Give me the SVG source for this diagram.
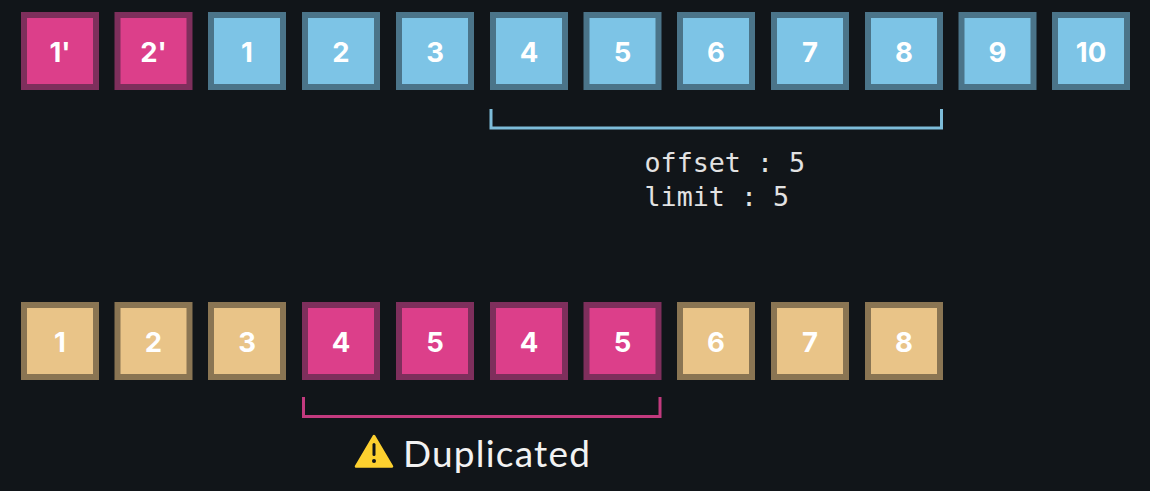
<svg xmlns="http://www.w3.org/2000/svg" width="1150" height="491" viewBox="0 0 1150 491">
<style>
.b{stroke-width:6}
.p{fill:#dc3f8a;stroke:#7e2f5c}
.c{fill:#7dc4e6;stroke:#4b7489}
.t{fill:#e9c488;stroke:#8a7553}
.n{font-family:"Inter","Liberation Sans",sans-serif;font-weight:700;font-size:27.500px;fill:#fff;text-anchor:middle}
.m{font-family:"DejaVu Sans Mono",monospace;font-size:26.700px;fill:#e2e2e2}
.k{fill:none;stroke-width:3}
</style>
<defs>
<rect id="box" x="-36" y="-36" width="72" height="72"/>
</defs>
<rect width="1150" height="491" fill="#111519"/>
<g id="top-row">
<g id="a1p" transform="translate(60,51)"><use href="#box" class="b p"/><text class="n" y="11">1'</text></g>
<g id="a2p" transform="translate(153.500,51)"><use href="#box" class="b p"/><text class="n" y="11">2'</text></g>
<g id="a1" transform="translate(247,51)"><use href="#box" class="b c"/><text class="n" y="11">1</text></g>
<g id="a2" transform="translate(341,51)"><use href="#box" class="b c"/><text class="n" y="11">2</text></g>
<g id="a3" transform="translate(435,51)"><use href="#box" class="b c"/><text class="n" y="11">3</text></g>
<g id="a4" transform="translate(529,51)"><use href="#box" class="b c"/><text class="n" y="11">4</text></g>
<g id="a5" transform="translate(622.500,51)"><use href="#box" class="b c"/><text class="n" y="11">5</text></g>
<g id="a6" transform="translate(716,51)"><use href="#box" class="b c"/><text class="n" y="11">6</text></g>
<g id="a7" transform="translate(810,51)"><use href="#box" class="b c"/><text class="n" y="11">7</text></g>
<g id="a8" transform="translate(904,51)"><use href="#box" class="b c"/><text class="n" y="11">8</text></g>
<g id="a9" transform="translate(997.500,51)"><use href="#box" class="b c"/><text class="n" y="11">9</text></g>
<g id="a10" transform="translate(1091,51)"><use href="#box" class="b c"/><text class="n" y="11">10</text></g>
</g>
<g id="bottom-row">
<g id="b1" transform="translate(60,341)"><use href="#box" class="b t"/><text class="n" y="11">1</text></g>
<g id="b2" transform="translate(153.500,341)"><use href="#box" class="b t"/><text class="n" y="11">2</text></g>
<g id="b3" transform="translate(247,341)"><use href="#box" class="b t"/><text class="n" y="11">3</text></g>
<g id="b4" transform="translate(341,341)"><use href="#box" class="b p"/><text class="n" y="11">4</text></g>
<g id="b5" transform="translate(435,341)"><use href="#box" class="b p"/><text class="n" y="11">5</text></g>
<g id="b4d" transform="translate(529,341)"><use href="#box" class="b p"/><text class="n" y="11">4</text></g>
<g id="b5d" transform="translate(622.500,341)"><use href="#box" class="b p"/><text class="n" y="11">5</text></g>
<g id="b6" transform="translate(716,341)"><use href="#box" class="b t"/><text class="n" y="11">6</text></g>
<g id="b7" transform="translate(810,341)"><use href="#box" class="b t"/><text class="n" y="11">7</text></g>
<g id="b8" transform="translate(904,341)"><use href="#box" class="b t"/><text class="n" y="11">8</text></g>
</g>
<g id="connectors">
<path class="k" stroke="#7dbcd9" d="M491 109V128H941.500V109"/>
<path class="k" stroke="#c23a7e" d="M303.500 397V416.500H660V397"/>
</g>
<g id="labels">
<text class="m" x="644.500" y="172">offset : 5</text>
<text class="m" x="644.500" y="206">limit : 5</text>
<g id="warning">
<path d="M374 436L392 466.500H356Z" fill="#fdd02f" stroke="#fdd02f" stroke-width="2.500" stroke-linejoin="round"/>
<rect x="372.500" y="443" width="3" height="13" rx="1.500" fill="#111519"/>
<circle cx="374" cy="461" r="2" fill="#111519"/>
</g>
<text x="403" y="466.500" font-family="Lato,'Liberation Sans',sans-serif" font-size="37" letter-spacing="1.200" fill="#f2f2f2">Duplicated</text>
</g>
</svg>
